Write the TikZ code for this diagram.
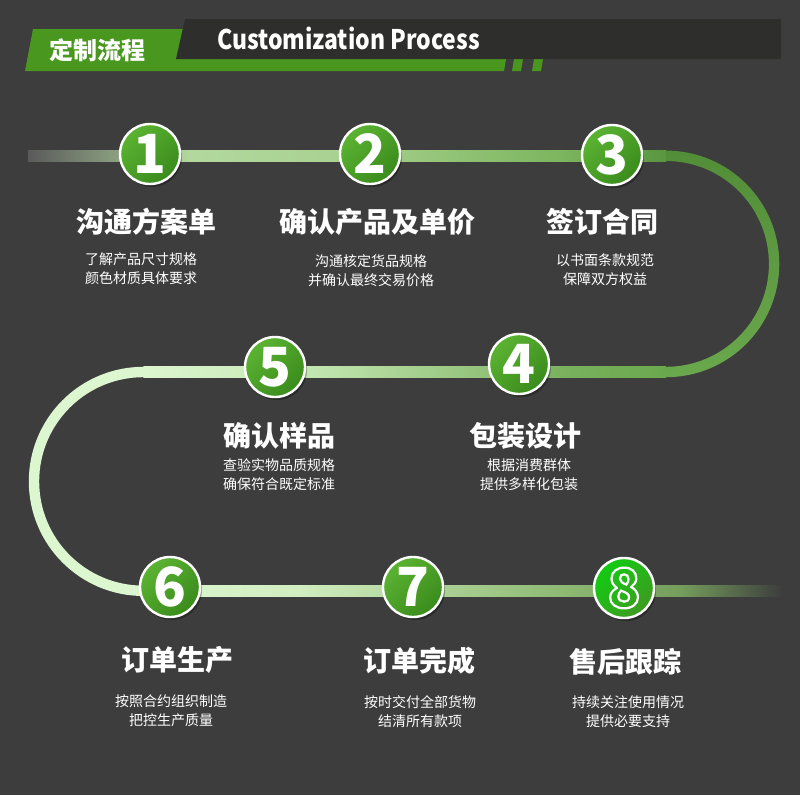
\documentclass[tikz,border=0pt]{standalone}
\usepackage{fontspec}
\setmainfont{Noto Sans CJK SC}
\usetikzlibrary{shadows}

\definecolor{bgdark}{HTML}{3D3D3D}
\definecolor{bardark}{HTML}{2E2F2C}
\definecolor{bargreen}{HTML}{4A971F}
\definecolor{ballA}{HTML}{5BB332}
\definecolor{ballB}{HTML}{3A8B1C}
\definecolor{lastA}{HTML}{12CC12}
\definecolor{lastB}{HTML}{3F9A22}

\newcommand{\outlinedigit}[1]{\special{pdf:code q 1 1 1 RG 2.2 w 1 Tr}#1\special{pdf:code 0 Tr Q}}

\tikzset{
  numball/.style={circle, minimum size=60pt, inner sep=0pt, draw=white, line width=2.4pt,
    top color=ballA, bottom color=ballB, shading angle=45,
    drop shadow={shadow xshift=2pt, shadow yshift=-3pt, opacity=0.3, fill=black},
    text=white, font=\bfseries\fontsize{54}{54}\selectfont},
  lastball/.style={numball, top color=lastA, bottom color=lastB, shading angle=45},
  titletext/.style={text=white, inner sep=0pt, font=\bfseries\fontsize{28}{30}\selectfont},
  notetext/.style={text=white, inner sep=0pt, align=center, font=\fontsize{14}{19}\selectfont},
}

\begin{document}
\begin{tikzpicture}[x=1pt, y=-1pt]
    % Sfondo
    \fill[bgdark] (0,0) rectangle (800,795);
    \useasboundingbox (0,0) rectangle (800,795);

    % Testata
    \fill[bargreen] (33,29) -- (510,29) -- (506,59) -- (504,71) -- (25,71) -- cycle;
    \fill[bargreen] (514,59) -- (523,59) -- (521,71) -- (512,71) -- cycle;
    \fill[bargreen] (534,59) -- (543,59) -- (541,71) -- (532,71) -- cycle;
    \fill[bardark] (185,19) -- (781,19) -- (781,59) -- (176,59) -- cycle;
    \node[text=white, font=\bfseries\fontsize{24}{24}\selectfont] (head) at (97,50) {定制流程};
    \node[text=white, anchor=west, inner sep=0pt, xscale=0.85, transform shape,
          font=\bfseries\fontsize{27}{27}\selectfont] (headen) at (217,38) {Customization Process};

    % Percorso - riga alta
    \definecolor{trkA}{HTML}{B2D89E}
    \definecolor{trkB}{HTML}{AAD292}
    \definecolor{trkC}{HTML}{7CB65E}
    \definecolor{trkD}{HTML}{5A9640}
    \shade[left color=bgdark!85!white, right color=trkA] (28,150.6) rectangle (190,161);
    \shade[left color=trkA, right color=trkB] (190,150.6) rectangle (330,161);
    \shade[left color=trkB, right color=trkC] (330,150.6) rectangle (560,161);
    \shade[left color=trkC, right color=trkD] (560,150.6) rectangle (666,161);

    % Arco destro
    \definecolor{trkE}{HTML}{528D37}
    \definecolor{trkF}{HTML}{6AA84D}
    \begin{scope}
        \clip (666,140) rectangle (800,390);
        \shade[top color=trkE, bottom color=trkF, even odd rule]
            (666,263.9) circle (113.3pt) (666,263.9) circle (102.9pt);
    \end{scope}

    % Riga centrale
    \definecolor{trkG}{HTML}{7AB25E}
    \definecolor{trkH}{HTML}{96C67E}
    \definecolor{trkI}{HTML}{C6E8B4}
    \definecolor{trkJ}{HTML}{DCF6D0}
    \shade[left color=trkG, right color=trkF] (560,366.8) rectangle (666,377.2);
    \shade[left color=trkH, right color=trkG] (470,366.8) rectangle (560,377.2);
    \shade[left color=trkI, right color=trkH] (300,366.8) rectangle (470,377.2);
    \shade[left color=trkJ, right color=trkI] (143.4,366.8) rectangle (300,377.2);

    % Arco sinistro
    \begin{scope}
        \clip (0,360) rectangle (143.4,600);
        \fill[trkJ, even odd rule]
            (143.4,481.4) circle (114.6pt) (143.4,481.4) circle (104.2pt);
    \end{scope}

    % Riga bassa
    \definecolor{trkK}{HTML}{D0EEC0}
    \definecolor{trkL}{HTML}{B2D69C}
    \definecolor{trkM}{HTML}{8EBA74}
    \definecolor{trkN}{HTML}{759E5D}
    \shade[left color=trkJ, right color=trkK] (143.4,585.6) rectangle (300,596);
    \shade[left color=trkK, right color=trkL] (300,585.6) rectangle (412,596);
    \shade[left color=trkL, right color=trkM] (412,585.6) rectangle (560,596);
    \shade[left color=trkM, right color=trkN] (560,585.6) rectangle (680,596);
    \shade[left color=trkN, right color=bgdark] (680,585.6) rectangle (782,596);

    % Cerchi numerati
    \node[numball] (n1) at (150,154) {1};
    \node[numball] (n2) at (370,154) {2};
    \node[numball] (n3) at (612,155) {3};
    \node[numball] (n4) at (519,364) {4};
    \node[numball] (n5) at (275,367) {5};
    \node[numball] (n6) at (170,587) {6};
    \node[numball] (n7) at (413,587) {7};
    \node[lastball] (n8) at (624,588) {\outlinedigit{8}};

    % Titoli e descrizioni
    \node[titletext] (t1) at (146.5,221.5) {沟通方案单};
    \node[notetext] (d1) at (141,268.5) {了解产品尺寸规格\\颜色材质具体要求};
    \node[titletext] (t2) at (377,221.5) {确认产品及单价};
    \node[notetext] (d2) at (371,270.5) {沟通核定货品规格\\并确认最终交易价格};
    \node[titletext] (t3) at (602,221.5) {签订合同};
    \node[notetext] (d3) at (605,270) {以书面条款规范\\保障双方权益};

    \node[titletext] (t4) at (525,435.5) {包装设计};
    \node[notetext] (d4) at (529,475) {根据消费群体\\提供多样化包装};
    \node[titletext] (t5) at (279.5,435.5) {确认样品};
    \node[notetext] (d5) at (279,475) {查验实物品质规格\\确保符合既定标准};

    \node[titletext] (t6) at (177.5,660) {订单生产};
    \node[notetext] (d6) at (171,710.5) {按照合约组织制造\\把控生产质量};
    \node[titletext] (t7) at (419.5,661) {订单完成};
    \node[notetext] (d7) at (420,711.5) {按时交付全部货物\\结清所有款项};
    \node[titletext] (t8) at (625.5,662) {售后跟踪};
    \node[notetext] (d8) at (628,711.5) {持续关注使用情况\\提供必要支持};
\end{tikzpicture}
\end{document}
